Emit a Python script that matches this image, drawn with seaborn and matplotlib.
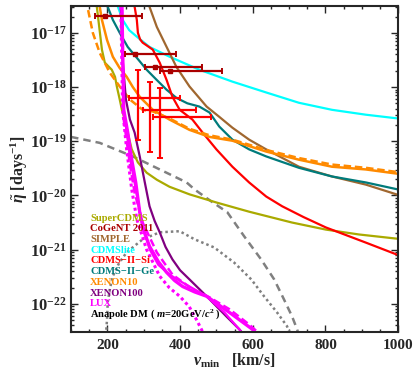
import numpy as np
import pandas as pd
import matplotlib
matplotlib.use("Agg")
import matplotlib.pyplot as plt
import seaborn as sns

# vmin [km/s] and log10(eta~ [1/days])
supercdms_v = [171, 185, 193, 212, 221, 226, 234, 240, 248, 258, 267, 284, 308, 336, 371, 426, 500, 590, 708, 801, 892, 1000]
supercdms_y = [-16.52, -17.31, -17.55, -17.68, -17.81, -17.99, -18.23, -18.42, -18.60, -18.90, -19.15, -19.39,
               -19.58, -19.71, -19.84, -19.98, -20.13, -20.30, -20.50, -20.63, -20.72, -20.80]

cdmslite_v = [228, 242, 260, 281, 316, 371, 453, 544, 637, 727, 818, 911, 1000]
cdmslite_y = [-16.50, -16.76, -16.95, -17.07, -17.26, -17.44, -17.68, -17.90, -18.10, -18.29, -18.42, -18.51, -18.58]

ge_v = [201, 215, 234, 256, 281, 308, 336, 363, 390, 420, 453, 481, 508, 544, 590, 637, 727, 818, 911, 1000]
ge_y = [-16.52, -16.76, -17.00, -17.26, -17.46, -17.68, -17.87, -18.05, -18.20, -18.30, -18.36, -18.47, -18.73,
        -18.97, -19.15, -19.28, -19.49, -19.65, -19.76, -19.89]

simple_v = [316, 336, 363, 390, 426, 473, 508, 544, 590, 637, 727, 818, 911, 1000]
simple_y = [-16.52, -16.89, -17.26, -17.63, -17.99, -18.36, -18.55, -18.75, -18.97, -19.15, -19.47, -19.65,
            -19.80, -19.99]

si_v = [275, 281, 284, 290, 297, 310, 325, 344, 363, 379, 399, 434, 462, 500, 544, 590, 637, 681, 740, 801, 911, 1000]
si_y = [-16.52, -16.76, -17.00, -17.12, -17.18, -17.24, -17.31, -17.55, -17.87, -18.18, -18.42, -18.60, -18.84,
        -19.15, -19.47, -19.76, -20.02, -20.20, -20.40, -20.59, -20.87, -21.10]

xe10_v = [179, 185, 199, 215, 233, 253, 270, 289, 325, 371, 426, 481, 544, 637, 727, 818, 911, 1000]
xe10_y = [-16.52, -16.76, -17.13, -17.44, -17.64, -17.81, -18.00, -18.18, -18.42, -18.60, -18.79, -18.92, -18.99,
          -19.19, -19.34, -19.47, -19.52, -19.60]
xe10b_v = [147, 160, 179, 207, 234, 262, 297, 325, 371, 426, 481, 544, 637, 727, 818, 911, 1000]
xe10b_y = [-16.58, -17.00, -17.37, -17.74, -17.99, -18.23, -18.42, -18.45, -18.58, -18.77, -18.89, -18.97,
           -19.16, -19.31, -19.43, -19.49, -19.57]

xe100_v = [237, 242, 251, 262, 275, 289, 303, 316, 330, 344, 360, 379, 400, 426, 473, 527, 563, 577]
xe100_y = [-16.52, -17.50, -18.23, -18.60, -18.84, -19.28, -19.76, -20.20, -20.47, -20.68, -20.95, -21.18,
           -21.38, -21.55, -21.86, -22.23, -22.47, -22.58]

lux_v = [240, 245, 256, 267, 278, 289, 300, 316, 340, 363, 385, 407, 440, 473, 536, 599, 612]
lux_y = [-16.52, -18.42, -18.84, -19.34, -19.76, -20.31, -20.65, -20.94, -21.22, -21.42, -21.57, -21.68, -21.78,
         -21.86, -22.16, -22.47, -22.58]
lux2_v = [240, 245, 262, 280, 292, 316, 340, 371, 400, 426, 473, 522, 563, 575]
lux2_y = [-16.52, -18.42, -19.30, -19.95, -20.40, -20.99, -21.28, -21.46, -21.58, -21.68, -21.86, -22.16,
          -22.47, -22.58]
lux_dash_v = [240, 245, 262, 275, 297, 336, 379, 434, 481, 536, 590, 623]
lux_dash_y = [-16.52, -18.60, -19.43, -19.95, -20.50, -21.05, -21.46, -21.73, -21.88, -22.10, -22.38, -22.58]
lux_dot_v = [237, 242, 253, 267, 281, 308, 344, 370, 399, 425, 445, 467]
lux_dot_y = [-16.52, -18.42, -19.15, -19.89, -20.44, -21.00, -21.49, -21.70, -21.86, -22.05, -22.29, -22.58]

anapole_v = [100, 179, 270, 344, 418, 440, 486, 530, 577, 623, 659, 686, 708, 722, 727]
anapole_y = [-18.92, -19.03, -19.28, -19.52, -19.76, -19.89, -20.11, -20.31, -20.76, -21.18, -21.55, -21.92,
             -22.23, -22.47, -22.58]
anapole2_v = [196, 199, 201, 207, 215, 232, 253, 297, 344, 399, 440, 494, 549, 596, 631, 667, 694, 705]
anapole2_y = [-22.58, -22.29, -21.97, -21.72, -21.49, -21.25, -21.05, -20.81, -20.68, -20.66, -20.81, -20.96,
              -21.24, -21.55, -21.86, -22.16, -22.41, -22.58]

# CoGeNT 2011 bins: centre, low, high edge, log10(eta)
cogent_v = [193, 275, 330, 371]
cogent_lo = [166, 248, 303, 344]
cogent_hi = [295, 390, 459, 516]
cogent_y = [-16.69, -17.39, -17.63, -17.70]

# CDMS-II-Si points
si_pts_v = [284, 316, 344]
si_pts_lo = [259, 297, 325]
si_pts_hi = [399, 445, 486]
si_pts_y = [-18.20, -18.42, -18.55]
si_pts_top = [-17.68, -17.90, -18.01]
si_pts_bot = [-18.97, -19.19, -19.30]

yticks_exp = [-22, -21, -20, -19, -18, -17]
xticks = [200, 400, 600, 800, 1000]

legend_names = ["SuperCDMS", "CoGeNT 2011", "SIMPLE", "CDMSlite", "CDMS\u2212II\u2212Si", "CDMS\u2212II\u2212Ge",
                "XENON10", "XENON100", "LUX", "Anapole DM ( $m$=20GeV/$c^2$ )"]

OLIVE = "#aaaa00"
DKRED = "#aa0000"
BROWN = "#a0672f"
CYAN = "#00ffff"
RED = "#ff0000"
TEAL = "#007b7b"
ORANGE = "#ff8a00"
PURPLE = "#800080"
MAGENTA = "#ff00ff"
GRAY = "#808080"
legend_colors = [OLIVE, DKRED, BROWN, CYAN, RED, TEAL, ORANGE, PURPLE, MAGENTA, "black"]

sns.set_style("ticks")
plt.rcParams["font.family"] = ["Liberation Serif", "DejaVu Serif"]
plt.rcParams["font.weight"] = "bold"
plt.rcParams["mathtext.fontset"] = "custom"
plt.rcParams["mathtext.rm"] = "Liberation Serif:bold"
plt.rcParams["mathtext.it"] = "Liberation Serif:italic:bold"
plt.rcParams["mathtext.bf"] = "Liberation Serif:bold"

fig = plt.figure(figsize=(4.13, 3.72), dpi=100)
ax = fig.add_axes([0.172, 0.1075, 0.792, 0.877])


def curve(v, y, color, lw=1.6, ls="-"):
    d = pd.DataFrame({"v": v, "eta": 10.0 ** np.array(y)})
    sns.lineplot(data=d, x="v", y="eta", color=color, linewidth=lw, linestyle=ls,
                 sort=False, estimator=None, ax=ax)


curve(anapole_v, anapole_y, GRAY, lw=1.8, ls=(0, (3, 2)))
curve(anapole2_v, anapole2_y, GRAY, lw=1.8, ls=(0, (1, 1.2)))
curve(supercdms_v, supercdms_y, OLIVE)
curve(cdmslite_v, cdmslite_y, CYAN)
curve(simple_v, simple_y, BROWN)
curve(ge_v, ge_y, TEAL)
curve(si_v, si_y, RED)
curve(xe10_v, xe10_y, ORANGE, lw=1.8)
curve(xe10b_v, xe10b_y, ORANGE, lw=1.8, ls=(0, (3, 1.5)))
curve(xe100_v, xe100_y, PURPLE)
curve(lux2_v, lux2_y, MAGENTA, lw=1.6)
curve(lux_dash_v, lux_dash_y, MAGENTA, lw=1.8, ls=(0, (3, 1.5)))
curve(lux_dot_v, lux_dot_y, MAGENTA, lw=2.2, ls=(0, (1, 1)))
curve(lux_v, lux_y, MAGENTA, lw=2.4)

# CoGeNT horizontal bins
cy = 10.0 ** np.array(cogent_y)
ax.errorbar(cogent_v, cy,
            xerr=[np.array(cogent_v) - np.array(cogent_lo), np.array(cogent_hi) - np.array(cogent_v)],
            fmt="s", ms=3, color=DKRED, ecolor=DKRED, elinewidth=1.6, capsize=2.5, capthick=1.4)

# CDMS-II-Si crosses
sy = 10.0 ** np.array(si_pts_y)
ax.errorbar(si_pts_v, sy,
            xerr=[np.array(si_pts_v) - np.array(si_pts_lo), np.array(si_pts_hi) - np.array(si_pts_v)],
            yerr=[sy - 10.0 ** np.array(si_pts_bot), 10.0 ** np.array(si_pts_top) - sy],
            fmt="none", ecolor=RED, elinewidth=1.6, capsize=2.5, capthick=1.4)

ax.set_yscale("log")
ax.set_xlim(100, 1000)
ax.set_ylim(10 ** -22.52, 10 ** -16.5)
ax.set_xticks(xticks)
ax.set_xticklabels([str(t) for t in xticks])
ax.xaxis.set_minor_locator(matplotlib.ticker.MultipleLocator(50))
ax.set_yticks([10.0 ** e for e in yticks_exp])
ax.set_yticklabels(["$10^{-%d}$" % (-e) for e in yticks_exp])
minor = [m * 10.0 ** e for e in range(-23, -16) for m in range(2, 10)]
minor = [m for m in minor if 10 ** -22.52 < m < 10 ** -16.5]
ax.set_yticks(minor, minor=True)
ax.yaxis.set_minor_formatter(matplotlib.ticker.NullFormatter())
ax.tick_params(which="both", direction="in", top=True, right=True, width=1.0)
ax.tick_params(axis="x", which="major", labelsize=11, length=5, pad=5)
ax.tick_params(axis="y", which="major", labelsize=12, length=5, pad=3)
ax.tick_params(which="minor", length=2.5)
for s in ax.spines.values():
    s.set_linewidth(1.5)
ax.set_xlabel("$v_{\\mathrm{min}}$   [km/s]", fontsize=11.5, fontweight="bold", labelpad=0)
ax.set_ylabel("$\\tilde{\\eta}$ [days$^{-1}$]", fontsize=11.5, fontweight="bold", labelpad=0)

for i, (name, col) in enumerate(zip(legend_names, legend_colors)):
    ax.text(0.058, 0.349 - i * 0.0328, name, color=col, fontsize=7.6, fontweight="bold",
            transform=ax.transAxes, va="center", ha="left")

fig.savefig("out.png", dpi=100)
